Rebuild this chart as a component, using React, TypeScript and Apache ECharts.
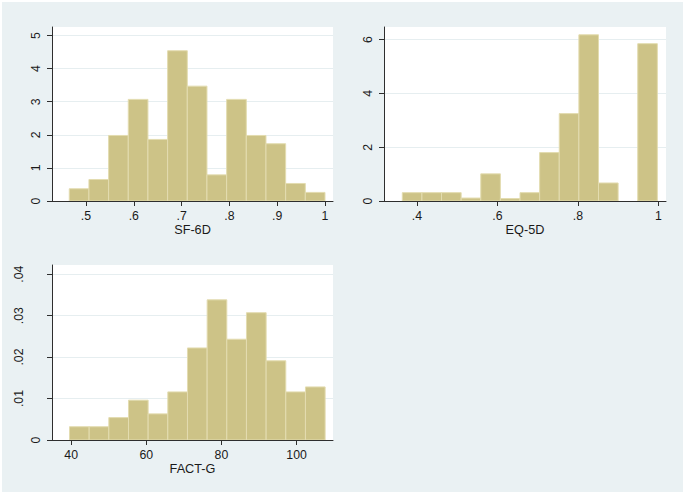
import React, { useEffect, useRef } from 'react';
import * as echarts from 'echarts';

// SF-6D histogram (density)
const sf6dBinStart = 0.465;
const sf6dBinWidth = 0.04115;
const sf6dDensity = [0.37, 0.65, 1.98, 3.07, 1.86, 4.54, 3.47, 0.79, 3.07, 1.98, 1.73, 0.53, 0.26];
const sf6dXTicks = [0.5, 0.6, 0.7, 0.8, 0.9, 1];
const sf6dYTicks = [0, 1, 2, 3, 4, 5];

// EQ-5D histogram (density)
const eq5dBinStart = 0.3635;
const eq5dBinWidth = 0.04877;
const eq5dDensity = [0.31, 0.31, 0.31, 0.11, 1.01, 0.09, 0.31, 1.8, 3.25, 6.18, 0.67, 0, 5.85];
const eq5dXTicks = [0.4, 0.6, 0.8, 1];
const eq5dYTicks = [0, 2, 4, 6];

// FACT-G histogram (density)
const factgBinStart = 39.56;
const factgBinWidth = 5.234;
const factgDensity = [0.0032, 0.0032, 0.0054, 0.0096, 0.0063, 0.0116, 0.0222, 0.0338, 0.0243, 0.0307, 0.0191, 0.0116, 0.0128];
const factgXTicks = [40, 60, 80, 100];
const factgYTicks = [0, 0.01, 0.02, 0.03, 0.04];

const FONT = '"Liberation Sans", Arial, Helvetica, sans-serif';
const TEXT = '#1a1a1a';
const AXIS = '#2e2e2e';
const BAR = '#CDC387';
const BAR_EDGE = '#E3DCB0';
const GRIDLINE = '#E6EEF0';

const fmt = (v: number) => {
  const s = String(Math.round(v * 10000) / 10000);
  return s.startsWith('0.') ? s.slice(1) : s;
};

const bins = (start: number, width: number, vals: number[]) =>
  vals.map((h, i) => [start + i * width, start + (i + 1) * width, h]);

const renderBar = (params: any, api: any) => {
  const h = api.value(2);
  if (!h) return null;
  const p0 = api.coord([api.value(0), 0]);
  const p1 = api.coord([api.value(1), h]);
  return {
    type: 'rect',
    shape: { x: p0[0], y: p1[1], width: p1[0] - p0[0], height: p0[1] - p1[1] },
    style: { fill: BAR, stroke: BAR_EDGE, lineWidth: 1 },
  };
};

export default function App() {
  const ref = useRef<HTMLDivElement>(null);

  useEffect(() => {
    if (!ref.current) return;
    const chart = echarts.init(ref.current, undefined, { renderer: 'svg' });

    const panels = [
      { left: 52, top: 27, width: 281, height: 174, xMin: 0.4289, xMax: 1.0167, yMax: 5.257, yInt: 1, xTicks: sf6dXTicks, yTicks: sf6dYTicks, name: 'SF-6D', data: bins(sf6dBinStart, sf6dBinWidth, sf6dDensity) },
      { left: 384, top: 27, width: 282, height: 174, xMin: 0.318, xMax: 1.019, yMax: 6.47, yInt: 2, xTicks: eq5dXTicks, yTicks: eq5dYTicks, name: 'EQ-5D', data: bins(eq5dBinStart, eq5dBinWidth, eq5dDensity) },
      { left: 52, top: 265, width: 281, height: 175, xMin: 34.9, xMax: 109.7, yMax: 0.0422, yInt: 0.01, xTicks: factgXTicks, yTicks: [factgYTicks[0]], name: 'FACT-G', data: bins(factgBinStart, factgBinWidth, factgDensity) },
    ];

    const labelStyle = { color: TEXT, fontSize: 12.3, fontFamily: FONT };

    const grid = panels.map((p) => ({
      left: p.left, top: p.top, width: p.width, height: p.height,
      show: true, backgroundColor: '#ffffff', borderWidth: 0, containLabel: false,
    }));

    const xAxis = panels.map((p, i) => ({
      type: 'value', gridIndex: i, min: p.xMin, max: p.xMax, position: 'bottom',
      axisLine: { show: true, onZero: false, lineStyle: { color: AXIS, width: 1 } },
      axisTick: { show: true, length: 5, customValues: p.xTicks, lineStyle: { color: AXIS, width: 1 } },
      axisLabel: { ...labelStyle, customValues: p.xTicks, formatter: (v: number) => fmt(v), margin: 9 },
      splitLine: { show: false },
      name: p.name, nameLocation: 'middle', nameGap: 22,
      nameTextStyle: { color: TEXT, fontSize: 12.7, fontFamily: FONT },
    }));

    const yAxis: any[] = panels.map((p, i) => ({
      type: 'value', gridIndex: i, min: 0, max: p.yMax, interval: p.yInt, position: 'left',
      axisLine: { show: true, onZero: false, lineStyle: { color: AXIS, width: 1 } },
      axisTick: { show: true, length: 5, customValues: i === 2 ? factgYTicks : p.yTicks, lineStyle: { color: AXIS, width: 1 } },
      axisLabel: { ...labelStyle, customValues: p.yTicks, formatter: (v: number) => fmt(v), rotate: 90, margin: 10 },
      splitLine: { show: true, lineStyle: { color: GRIDLINE, width: 1 } },
    }));
    // FACT-G decimal labels sit farther from the axis in the original
    yAxis.push({
      type: 'value', gridIndex: 2, min: 0, max: panels[2].yMax, interval: 0.01, position: 'left', offset: 0,
      axisLine: { show: false }, axisTick: { show: false }, splitLine: { show: false },
      axisLabel: { ...labelStyle, customValues: factgYTicks.slice(1), formatter: (v: number) => fmt(v), rotate: 90, margin: 27 },
    });

    const series = panels.map((p, i) => ({
      type: 'custom', xAxisIndex: i, yAxisIndex: i,
      renderItem: renderBar, encode: { x: [0, 1], y: 2 },
      data: p.data, clip: true,
    }));

    chart.setOption({
      animation: false,
      backgroundColor: 'transparent',
      grid, xAxis, yAxis, series,
    });

    return () => chart.dispose();
  }, []);

  return (
    <div style={{ position: 'fixed', left: 0, top: 0, width: 685, height: 494, background: '#ffffff' }}>
      <div style={{ position: 'absolute', left: 2, top: 2, right: 2, bottom: 2, background: '#EAF1F3' }} />
      <div ref={ref} style={{ position: 'absolute', left: 0, top: 0, width: 685, height: 494 }} />
    </div>
  );
}
